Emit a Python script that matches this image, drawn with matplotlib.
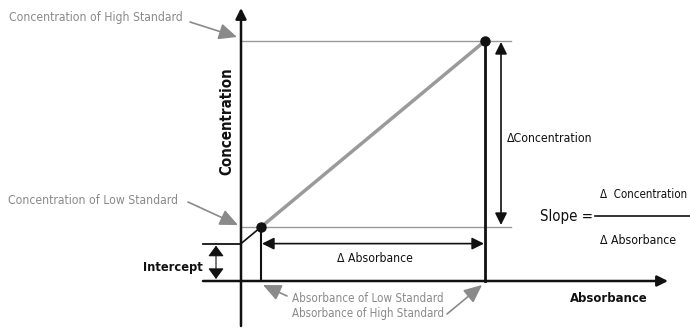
import matplotlib.pyplot as plt

# calibration values (arbitrary units, origin at the axes crossing)
absorbance = [20, 244]          # low standard, high standard
concentration = [54, 240]
slope = (concentration[1] - concentration[0]) / (absorbance[1] - absorbance[0])
intercept = concentration[0] - slope * absorbance[0]

DARK = '#111111'
GREY = '#8a8a8a'
LINEGREY = '#9a9a9a'
FONT = ['DejaVu Sans']
plt.rcParams['font.stretch'] = 'condensed'

fig = plt.figure(figsize=(6.9, 3.29), dpi=100)
ax = fig.add_axes([0, 0, 1, 1])
ax.set_xlim(-241, 449)
ax.set_ylim(-48, 281)
ax.axis('off')

x0, x1 = absorbance
y0, y1 = concentration

# axes
ax.annotate('', xy=(0, 273), xytext=(0, -45),
            arrowprops=dict(arrowstyle='-|>', color=DARK, lw=1.8, mutation_scale=16, shrinkA=0, shrinkB=0))
ax.annotate('', xy=(427, 0), xytext=(-38, 0),
            arrowprops=dict(arrowstyle='-|>', color=DARK, lw=1.8, mutation_scale=16, shrinkA=0, shrinkB=0))

# guide lines
ax.plot([0, 270], [y1, y1], color=LINEGREY, lw=1)
ax.plot([0, 270], [y0, y0], color=LINEGREY, lw=1)
ax.plot([-38, 0], [intercept, intercept], color=DARK, lw=1.3)
ax.plot([x0, x0], [0, y0], color=DARK, lw=1.5)
ax.plot([x1, x1], [0, y1], color=DARK, lw=2)

# calibration line
ax.plot([0, x0], [intercept, y0], color=DARK, lw=1.2)
ax.plot([x0, x1], [y0, y1], color=LINEGREY, lw=2.5)
ax.plot(absorbance, concentration, 'o', color=DARK, ms=6.5, zorder=5)

# delta arrows
dbl = dict(arrowstyle='<|-|>', color=DARK, lw=1.2, mutation_scale=18, shrinkA=0, shrinkB=0)
ax.annotate('', xy=(x0 + 1, intercept), xytext=(x1 - 1, intercept), arrowprops=dbl)
ax.annotate('', xy=(260, y1 - 1), xytext=(260, y0 + 2), arrowprops=dbl)
ax.annotate('', xy=(-25, intercept - 2), xytext=(-25, 2),
            arrowprops=dict(arrowstyle='<|-|>,head_length=0.3,head_width=0.22', color=DARK, lw=0.8,
                            mutation_scale=22, shrinkA=0, shrinkB=0))

ax.text(96, 22, '\u0394 Absorbance', ha='left', va='center',
        fontsize=8.7, color=DARK, family=FONT)
ax.text(266, 142, '\u0394Concentration', ha='left', va='center',
        fontsize=8.8, color=DARK, family=FONT)
ax.text(-38, 14, 'Intercept', ha='right', va='center', fontsize=9.2, fontweight='bold',
        color=DARK, family=FONT)

# axis titles
ax.text(-14, 160, 'Concentration', rotation=90, ha='center', va='center', fontsize=10.8,
        fontweight='bold', color=DARK, family=FONT)
ax.text(329, -17, 'Absorbance', ha='left', va='center', fontsize=9.4,
        fontweight='bold', color=DARK, family=FONT)

# slope formula
ax.text(299, 65, 'Slope =', ha='left', va='center', fontsize=10.8, color=DARK, family=FONT)
ax.plot([354, 449], [65, 65], color=DARK, lw=1.2)
ax.text(359, 87, '\u0394  Concentration', ha='left', va='center', fontsize=8.3, color=DARK, family=FONT)
ax.text(359, 40, '\u0394 Absorbance', ha='left', va='center', fontsize=8.8, color=DARK, family=FONT)

# grey call-outs
ptr = dict(arrowstyle='-|>,head_length=1.0,head_width=0.45', color=GREY, lw=1.2,
           mutation_scale=11, shrinkA=0, shrinkB=0)
ax.text(-232, 264, 'Concentration of High Standard', ha='left', va='center',
        fontsize=8.7, color=GREY, family=FONT)
ax.annotate('', xy=(-4, 244), xytext=(-51, 259), arrowprops=ptr)
ax.text(-233, 80, 'Concentration of Low Standard', ha='left', va='center',
        fontsize=8.7, color=GREY, family=FONT)
ax.annotate('', xy=(-3, 56), xytext=(-53, 79), arrowprops=ptr)
ax.text(51, -17, 'Absorbance of Low Standard', ha='left', va='center',
        fontsize=8.4, color=GREY, family=FONT)
ax.annotate('', xy=(x0 + 2, -4), xytext=(46, -15), arrowprops=ptr)
ax.text(51, -33, 'Absorbance of High Standard', ha='left', va='center',
        fontsize=8.3, color=GREY, family=FONT)
ax.annotate('', xy=(x1 - 3, -4), xytext=(206, -33), arrowprops=ptr)

fig.savefig('out.png', dpi=100)
